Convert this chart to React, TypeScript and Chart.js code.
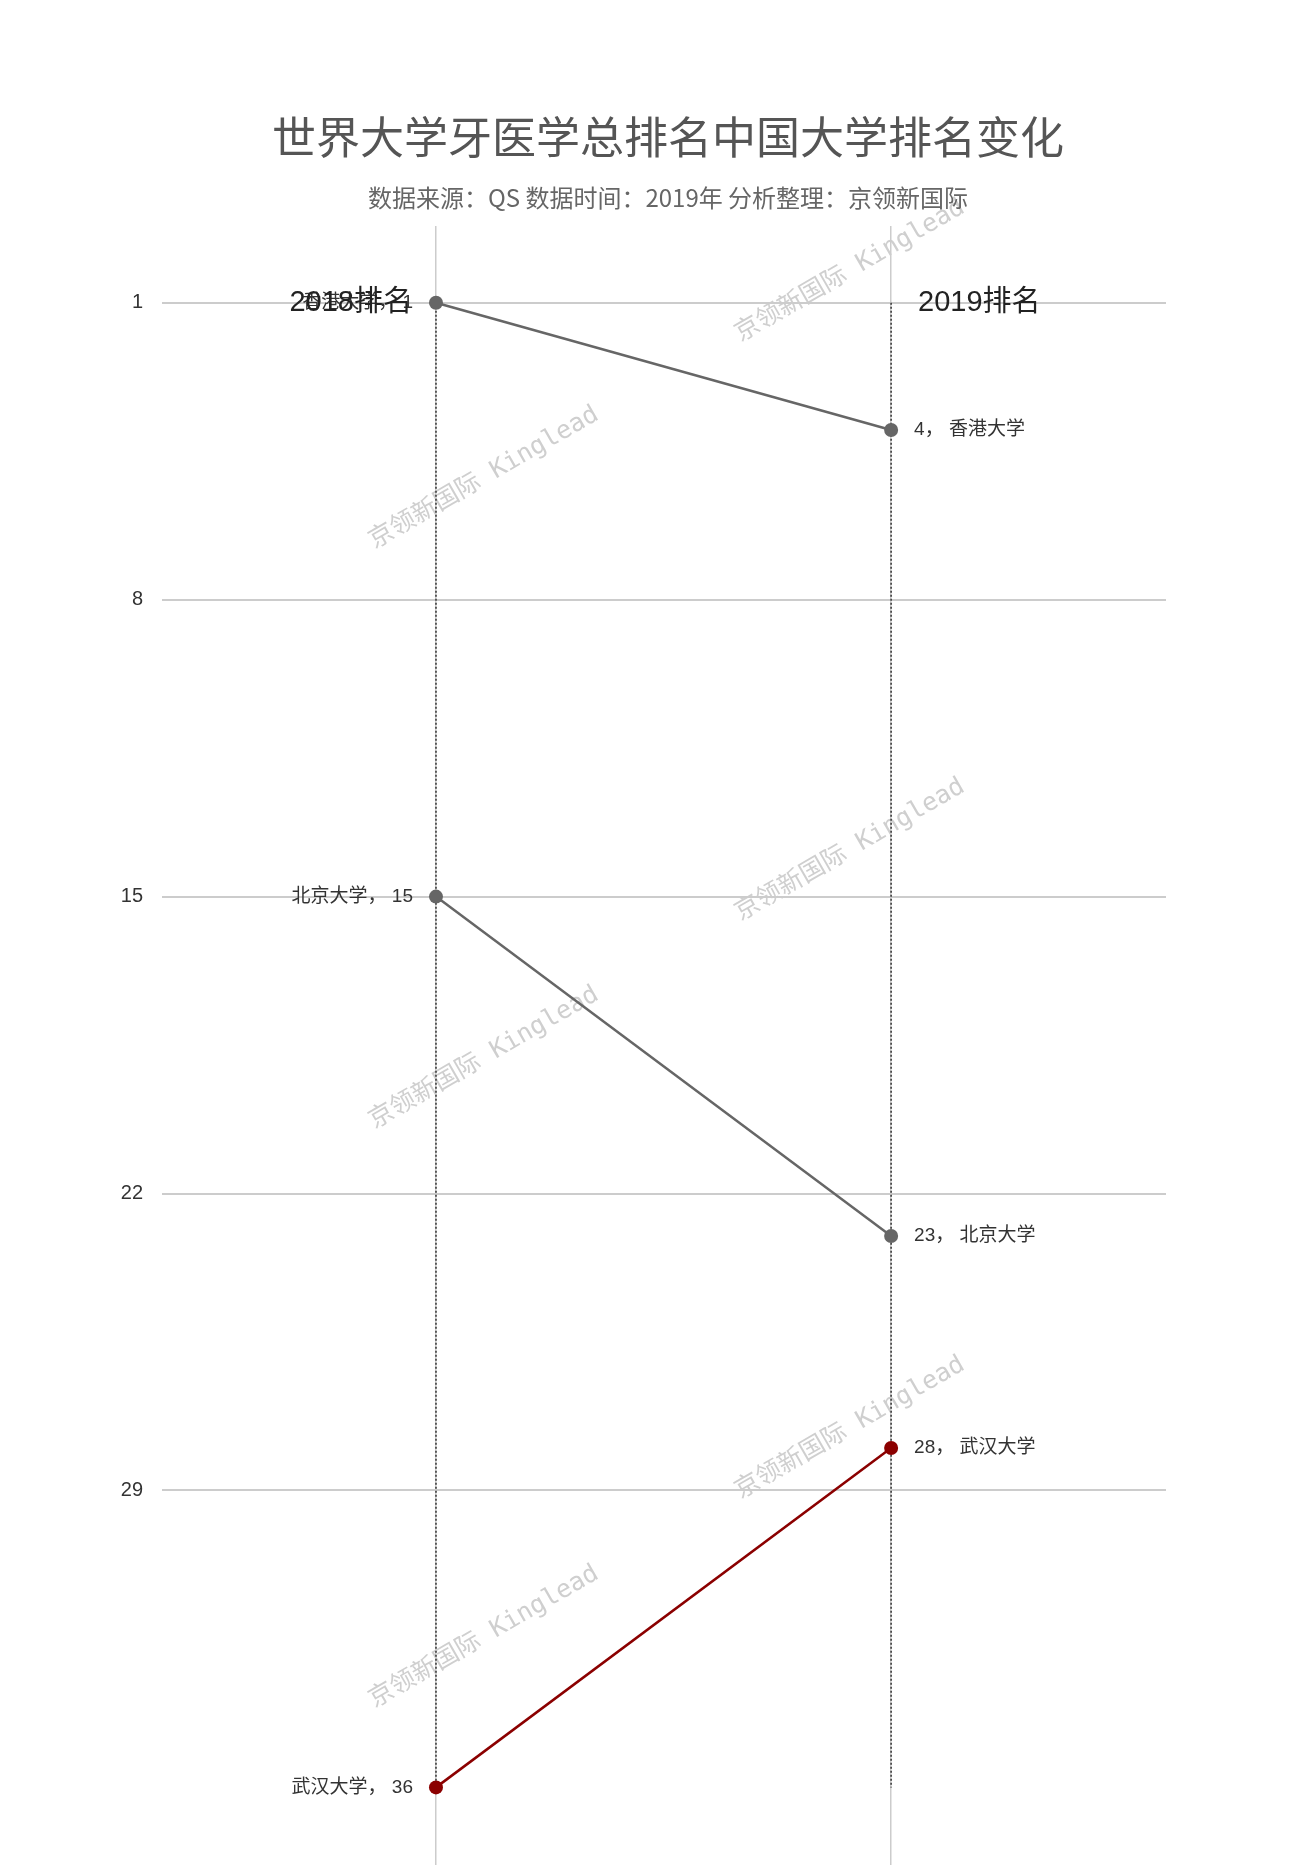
import React, { useEffect, useRef } from 'react';
import { Chart, registerables } from 'chart.js';

Chart.register(...registerables);

const universities = ['香港大学', '北京大学', '武汉大学'];
const rank2018 = [1, 15, 36];
const rank2019 = [4, 23, 28];
const seriesColors = ['#666666', '#666666', '#8B0000'];
const yTickValues = [1, 8, 15, 22, 29];
const columnLabels = ['2018排名', '2019排名'];
const titleText = '世界大学牙医学总排名中国大学排名变化';
const subtitleText = '数据来源：QS 数据时间：2019年 分析整理：京领新国际';
const watermarkText = '京领新国际 Kinglead';

const CJK = '"Noto Sans CJK SC", "Noto Sans", sans-serif';
const MIXED = '"Liberation Sans", "Noto Sans CJK SC", sans-serif';

const allRanks = [...rank2018, ...rank2019];
const topRank = Math.min(...allRanks);
const bottomRank = Math.max(...allRanks);

const watermarkPlugin = {
  id: 'watermark',
  beforeDraw(chart: any) {
    const ctx = chart.ctx;
    const spots = [
      [850, 271],
      [484, 478],
      [850, 850],
      [484, 1058],
      [850, 1428],
      [484, 1637],
    ];
    ctx.save();
    ctx.fillStyle = '#cfcfcf';
    ctx.font = '25px "DejaVu Sans Mono", "Noto Sans CJK SC", monospace';
    ctx.textAlign = 'center';
    ctx.textBaseline = 'middle';
    spots.forEach(([x, y]) => {
      ctx.save();
      ctx.translate(x, y);
      ctx.rotate(-Math.PI / 6);
      ctx.fillText(watermarkText, 0, 0);
      ctx.restore();
    });
    ctx.restore();
  },
};

const labelPlugin = {
  id: 'rankLabels',
  afterDatasetsDraw(chart: any) {
    const ctx = chart.ctx;
    ctx.save();
    ctx.textBaseline = 'middle';
    universities.forEach((name, i) => {
      const meta = chart.getDatasetMeta(i);
      const p0 = meta.data[0];
      const p1 = meta.data[1];
      ctx.font = `19px ${MIXED}`;
      ctx.fillStyle = '#333333';
      ctx.textAlign = 'right';
      ctx.fillText(`${name}， ${rank2018[i]}`, p0.x - 23, p0.y);
      ctx.textAlign = 'left';
      ctx.fillText(`${rank2019[i]}， ${name}`, p1.x + 23, p1.y);
    });
    const xs = chart.scales.x;
    const ys = chart.scales.y;
    const yTop = ys.getPixelForValue(topRank);
    ctx.font = `29px ${MIXED}`;
    ctx.fillStyle = '#222222';
    ctx.textAlign = 'right';
    ctx.fillText(columnLabels[0], xs.getPixelForValue(0) - 24, yTop);
    ctx.textAlign = 'left';
    ctx.fillText(columnLabels[1], xs.getPixelForValue(1) + 27, yTop);
    ctx.restore();
  },
};

export default function App() {
  const canvasRef = useRef<HTMLCanvasElement | null>(null);

  useEffect(() => {
    if (!canvasRef.current) return;
    Chart.defaults.font.family = CJK;

    const uniDatasets = universities.map((name, i) => ({
      label: name,
      data: [
        { x: 0, y: rank2018[i] },
        { x: 1, y: rank2019[i] },
      ],
      borderColor: seriesColors[i],
      backgroundColor: seriesColors[i],
      pointBackgroundColor: seriesColors[i],
      pointBorderWidth: 0,
      pointRadius: 7,
      borderWidth: 2.5,
      order: 0,
    }));

    const guideDatasets = [0, 1].map((xv) => ({
      label: 'guide' + xv,
      data: [
        { x: xv, y: topRank },
        { x: xv, y: bottomRank },
      ],
      borderColor: '#333333',
      borderWidth: 1.5,
      borderDash: [2, 2],
      pointRadius: 0,
      order: 1,
    }));

    const chart = new Chart(canvasRef.current, {
      type: 'line',
      data: { datasets: [...uniDatasets, ...guideDatasets] as any },
      plugins: [watermarkPlugin, labelPlugin],
      options: {
        animation: false,
        responsive: false,
        devicePixelRatio: 1,
        layout: { padding: { left: 40, right: 0, top: 0, bottom: 0 } },
        plugins: {
          legend: { display: false },
          tooltip: { enabled: false },
          title: {
            display: true,
            text: titleText,
            color: '#555555',
            font: { size: 44, weight: 'normal', family: CJK, lineHeight: 1.2 },
            padding: { top: 110.6, bottom: 0 },
          },
          subtitle: {
            display: true,
            text: subtitleText,
            color: '#666666',
            font: { size: 24, weight: 'normal', family: CJK, lineHeight: 1.2 },
            padding: { top: 20.2, bottom: 13.6 },
          },
        },
        scales: {
          x: {
            type: 'linear',
            min: -0.602,
            max: 1.604,
            afterBuildTicks: (s: any) => {
              s.ticks = [{ value: 0 }, { value: 1 }];
            },
            ticks: { display: false },
            grid: { color: '#cccccc', lineWidth: 1.5, drawTicks: false },
            border: { display: false },
          },
          y: {
            type: 'linear',
            position: 'left',
            reverse: true,
            min: -0.81,
            max: 37.83,
            afterBuildTicks: (s: any) => {
              s.ticks = yTickValues.map((v) => ({ value: v }));
            },
            afterFit: (s: any) => {
              s.width = 122;
              s.paddingTop = 0;
              s.paddingBottom = 0;
            },
            ticks: {
              color: '#333333',
              font: { size: 20, family: '"Liberation Sans", Arial, sans-serif' },
              padding: 19,
            },
            grid: { color: '#cccccc', lineWidth: 2, drawTicks: false },
            border: { display: false },
          },
          yR: {
            type: 'linear',
            position: 'right',
            display: true,
            afterFit: (s: any) => {
              s.width = 130;
              s.paddingTop = 0;
              s.paddingBottom = 0;
            },
            ticks: { display: false },
            grid: { display: false, drawTicks: false },
            border: { display: false },
          },
        },
      } as any,
    });

    return () => chart.destroy();
  }, []);

  return (
    <div style={{ position: 'absolute', left: 0, top: 0, width: 1296, height: 1872, background: '#ffffff' }}>
      <canvas ref={canvasRef} width={1296} height={1872} style={{ width: 1296, height: 1872, display: 'block' }} />
    </div>
  );
}
